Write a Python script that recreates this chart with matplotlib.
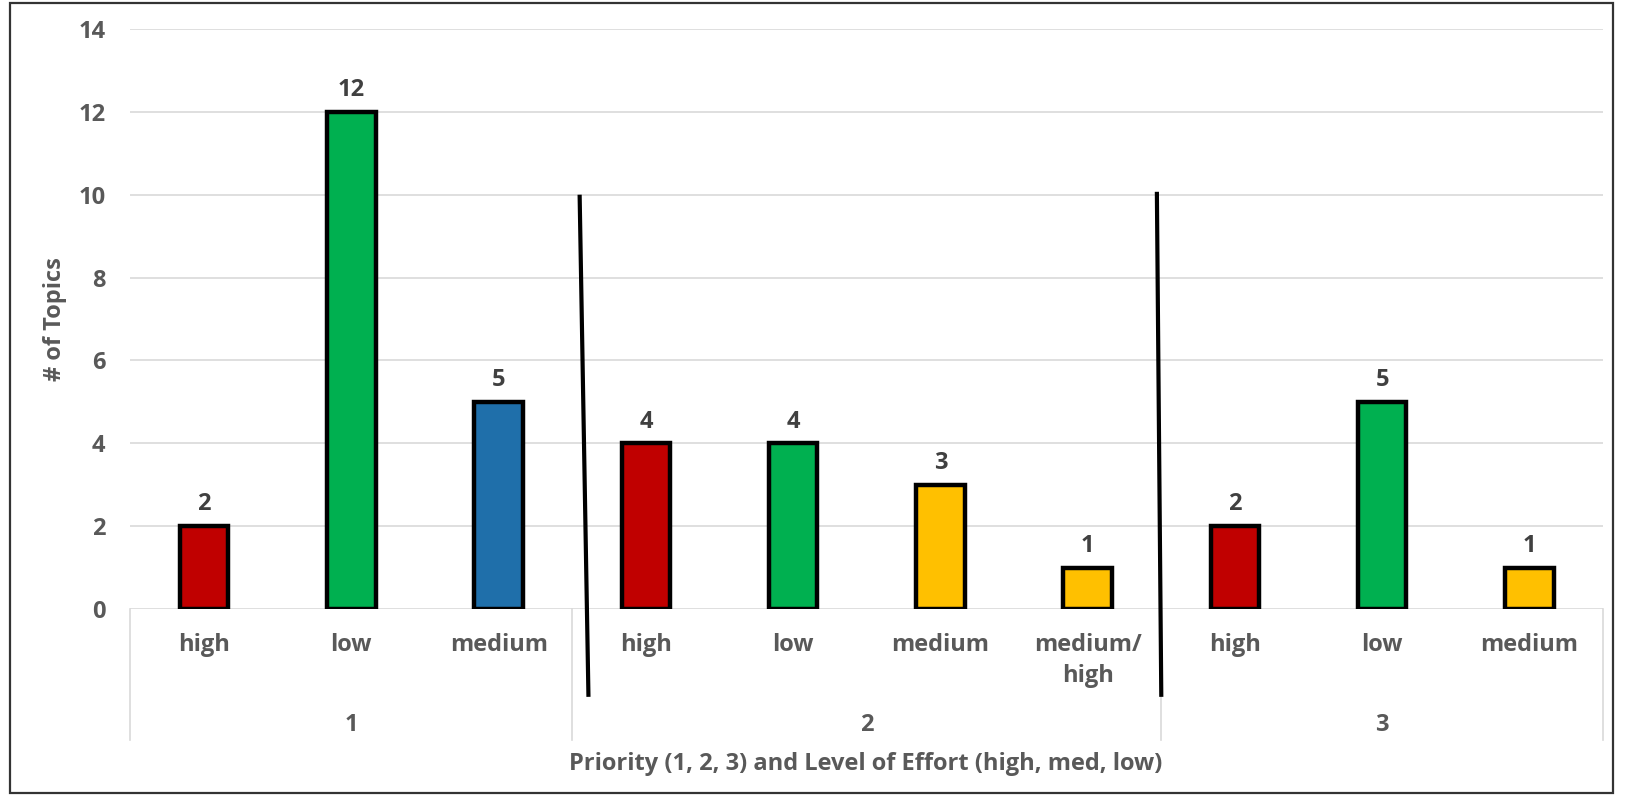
import matplotlib
matplotlib.use("Agg")
import matplotlib.pyplot as plt
from matplotlib.patches import Rectangle
from matplotlib.lines import Line2D
import matplotlib.transforms as mtransforms

# ---- data ----
groups = ["1", "2", "3"]
group_sizes = [3, 4, 3]
efforts = ["high", "low", "medium", "high", "low", "medium", "medium/\nhigh", "high", "low", "medium"]
values = [2, 12, 5, 4, 4, 3, 1, 2, 5, 1]
colors = ["#C00000", "#00B050", "#1F6FAA", "#C00000", "#00B050", "#FFC000", "#FFC000",
          "#C00000", "#00B050", "#FFC000"]
y_ticks = [0, 2, 4, 6, 8, 10, 12, 14]
y_title = "# of Topics"
x_title = "Priority (1, 2, 3) and Level of Effort (high, med, low)"

FONT = "Open Sans"
GRAY = "#595959"
LBL = "#404040"
FS = 17

plt.rcParams["font.family"] = [FONT, "DejaVu Sans"]

fig = plt.figure(figsize=(16.25, 7.96), dpi=100)
ax = fig.add_axes([0.0803, 0.2349, 0.9062, 0.7287])

x = list(range(len(values)))
bars = ax.bar(x, values, width=0.33, color=colors, edgecolor="black", linewidth=3.2, zorder=3)

for xi, v in zip(x, values):
    ax.annotate(str(v), (xi, v), xytext=(0, 7), textcoords="offset points",
                ha="center", va="bottom", fontsize=FS, fontweight="bold", color=LBL)

ax.set_xlim(-0.5, len(values) - 0.5)
ax.set_ylim(0, 14)
ax.set_yticks(y_ticks)
ax.set_yticklabels([str(t) for t in y_ticks], fontsize=FS, fontweight="bold", color=GRAY)
ax.tick_params(axis="y", length=0, pad=18)
ax.set_xticks(x)
ax.set_xticklabels(efforts, fontsize=FS, fontweight="bold", color=GRAY, linespacing=1.4)
ax.tick_params(axis="x", length=0, pad=17)
ax.grid(axis="y", color="#D9D9D9", linewidth=1.2, zorder=0)
for s in ["top", "right", "left", "bottom"]:
    ax.spines[s].set_visible(False)

# group separators and labels
trans = mtransforms.blended_transform_factory(ax.transData, ax.transAxes)
bounds = [-0.5]
for n in group_sizes:
    bounds.append(bounds[-1] + n)
for b in bounds:
    ax.add_line(Line2D([b, b], [0, -0.226], transform=trans, color="#D9D9D9",
                       linewidth=1.2, clip_on=False))
for g, lo, hi in zip(groups, bounds[:-1], bounds[1:]):
    ax.text((lo + hi) / 2, -0.20, g, transform=trans, ha="center", va="center",
            fontsize=FS, fontweight="bold", color=GRAY)

ax.set_ylabel(y_title, fontsize=FS, fontweight="bold", color=GRAY, labelpad=8)
fig.text(0.533, 0.040, x_title, ha="center", va="center", fontsize=FS,
         fontweight="bold", color=GRAY)

# hand-drawn divider lines between priority groups
dividers = [((2.55, 10.0), (2.61, -2.12)), ((6.47, 10.07), (6.50, -2.12))]
for (x0, y0), (x1, y1) in dividers:
    ax.plot([x0, x1], [y0, y1], color="black", linewidth=3.0, clip_on=False, zorder=5,
            solid_capstyle="butt")

# outer border
fig.patches.append(Rectangle((10 / 1625, 3 / 796), 1603 / 1625, 790 / 796,
                             transform=fig.transFigure, fill=False,
                             edgecolor="#333333", linewidth=1.6))

fig.savefig("out.png", dpi=100)
